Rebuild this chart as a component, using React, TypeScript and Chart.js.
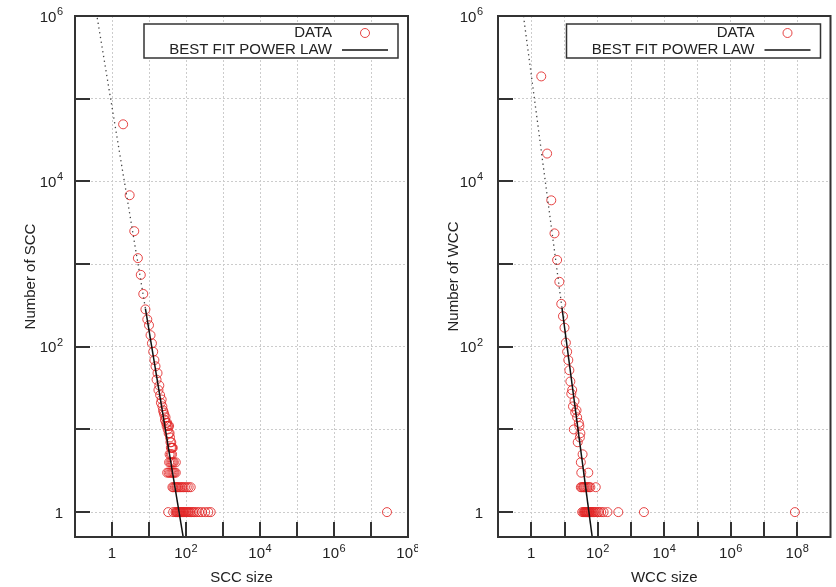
import React, { useEffect, useRef } from "react";
import { Chart, registerables } from "chart.js";

Chart.register(...registerables);

// ---------- SCC panel data ----------
const sccSizes = [
  2, 3, 4, 5, 6, 7, 8, 9, 10, 11, 12, 13, 14, 15, 16, 17, 18, 19, 20, 21, 22, 23, 24, 25, 26, 27, 28, 29, 30,
  31, 32, 33, 34, 35, 36, 37, 38, 39, 40, 41, 42, 44,
  36, 39, 42,
  35, 38, 41, 44, 47, 53,
  31, 34, 37, 40, 43, 46, 49, 53,
  43, 46, 50, 54, 57, 61, 66, 72, 78, 85, 94, 105, 118, 134,
  33, 45, 52, 55, 58, 60, 63, 65, 68, 70, 73, 76, 80, 84, 88, 93, 99, 106, 113, 121, 130, 142, 156, 172, 195,
  225, 270, 330, 400, 465, 27000000,
];
const sccCounts = [
  49000, 6800, 2500, 1180, 740, 435, 283, 214, 182, 138, 110, 87, 69, 58, 40, 48, 30, 34, 26, 21, 23, 19, 17, 16, 15, 13, 14, 12, 11,
  12, 10, 11, 9, 11, 9, 8, 7, 6, 7, 6, 6, 6,
  5, 5, 5,
  4, 4, 4, 4, 4, 4,
  3, 3, 3, 3, 3, 3, 3, 3,
  2, 2, 2, 2, 2, 2, 2, 2, 2, 2, 2, 2, 2, 2,
  1, 1, 1, 1, 1, 1, 1, 1, 1, 1, 1, 1, 1, 1, 1, 1, 1, 1, 1, 1, 1, 1, 1, 1, 1,
  1, 1, 1, 1, 1, 1,
];
const sccFitSizes = [8, 120];
const sccFitCounts = [290, 0.19];
const sccExtrapSizes = [0.38, 8];
const sccExtrapCounts = [1080000, 290];

// ---------- WCC panel data ----------
const wccSizes = [
  2, 3, 4, 5, 6, 7, 8, 9, 10, 11, 12, 13, 14, 15, 16, 17, 18, 19, 20, 21, 23, 24, 25, 27, 28, 29, 30,
  35, 31, 32, 52,
  31, 33, 36, 38, 40, 43, 46, 50, 55, 60, 87,
  34, 37, 39, 41, 42, 44, 45, 47, 48, 49, 51, 53, 54, 56, 58, 62, 65, 70, 75, 80, 90, 100, 110, 127, 150, 196,
  415, 2450, 85000000,
];
const wccCounts = [
  186000, 21700, 5900, 2350, 1120, 610, 330, 234, 170, 112, 87, 69, 52, 38, 27, 30, 19, 10, 22, 16, 17, 14, 7, 12, 11, 8, 9,
  5, 4, 3, 3,
  2, 2, 2, 2, 2, 2, 2, 2, 2, 2, 2,
  1, 1, 1, 1, 1, 1, 1, 1, 1, 1, 1, 1, 1, 1, 1, 1, 1, 1, 1, 1, 1, 1, 1, 1, 1, 1,
  1, 1, 1,
];
const wccFitSizes = [8.4, 100];
const wccFitCounts = [295, 0.155];
const wccExtrapSizes = [0.585, 8.4];
const wccExtrapCounts = [1000000, 295];

// ---------- ticks ----------
const decadeValues = [0.1, 1, 10, 100, 1e3, 1e4, 1e5, 1e6, 1e7, 1e8, 1e9];
const decadeLabels = ["", "1", "", "10²", "", "10⁴", "", "10⁶", "", "10⁸", ""];

const legendDataLabel = "DATA";
const legendFitLabel = "BEST FIT POWER LAW";

const FONT_FAMILY = '"Liberation Sans", Arial, Helvetica, sans-serif';
const TEXT = "#222222";
const SUP_DIGITS = "⁰¹²³⁴⁵⁶⁷⁸⁹";

function labelFor(v: number): string {
  const i = decadeValues.findIndex((d) => Math.abs(Math.log10(d) - Math.log10(v)) < 1e-6);
  return i >= 0 ? decadeLabels[i] : "";
}

// split "10²" into base "10" and exponent "2"
function splitLabel(label: string): [string, string] {
  let base = "";
  let exp = "";
  for (const ch of label) {
    const k = SUP_DIGITS.indexOf(ch);
    if (k >= 0) exp += String(k);
    else base += ch;
  }
  return [base, exp];
}

function drawPowerLabel(ctx: CanvasRenderingContext2D, label: string, x: number, baseline: number, align: "center" | "right") {
  const [base, exp] = splitLabel(label);
  ctx.font = `15px ${FONT_FAMILY}`;
  const wb = ctx.measureText(base).width;
  ctx.font = `11px ${FONT_FAMILY}`;
  const we = exp ? ctx.measureText(exp).width + 0.5 : 0;
  const total = wb + we;
  const start = align === "center" ? x - total / 2 : x - total;
  ctx.textAlign = "left";
  ctx.textBaseline = "alphabetic";
  ctx.font = `15px ${FONT_FAMILY}`;
  ctx.fillText(base, start, baseline);
  if (exp) {
    ctx.font = `11px ${FONT_FAMILY}`;
    ctx.fillText(exp, start + wb + 0.5, baseline - 6.5);
  }
}

const framePlugin = {
  id: "gnuFrame",
  afterDraw(chart: any) {
    const { ctx, chartArea, scales, data } = chart;
    const { left, right, top, bottom } = chartArea;
    const x = scales.x;
    const y = scales.y;
    const yPad = chart.options.scales.y.ticks.padding;
    ctx.save();
    // inward tick marks
    ctx.strokeStyle = "#333";
    ctx.lineWidth = 2;
    x.ticks.forEach((t: any) => {
      const px = Math.round(x.getPixelForValue(t.value));
      if (px <= left + 1 || px >= right - 1) return;
      ctx.beginPath();
      ctx.moveTo(px, bottom);
      ctx.lineTo(px, bottom - 15);
      ctx.stroke();
    });
    y.ticks.forEach((t: any) => {
      const py = Math.round(y.getPixelForValue(t.value));
      if (py <= top + 1 || py >= bottom - 1) return;
      ctx.beginPath();
      ctx.moveTo(left, py);
      ctx.lineTo(left + 15, py);
      ctx.stroke();
    });
    // border box
    ctx.lineWidth = 2;
    ctx.strokeRect(left, top, right - left, bottom - top);

    // tick labels
    ctx.fillStyle = TEXT;
    x.ticks.forEach((t: any) => {
      const lab = labelFor(t.value);
      if (!lab) return;
      drawPowerLabel(ctx, lab, x.getPixelForValue(t.value), bottom + 21, "center");
    });
    y.ticks.forEach((t: any) => {
      const lab = labelFor(t.value);
      if (!lab) return;
      drawPowerLabel(ctx, lab, left - yPad, y.getPixelForValue(t.value) + 5.5, "right");
    });

    // legend box
    const bw = 254;
    const bh = 34;
    const bx = right - 10 - bw;
    const by = top + 8;
    ctx.fillStyle = "#fff";
    ctx.fillRect(bx, by, bw, bh);
    ctx.lineWidth = 1.5;
    ctx.strokeStyle = "#333";
    ctx.strokeRect(bx, by, bw, bh);
    ctx.font = `15px ${FONT_FAMILY}`;
    ctx.fillStyle = TEXT;
    ctx.textAlign = "right";
    ctx.textBaseline = "middle";
    const tx = bx + bw - 66;
    ctx.fillText(data.datasets[0].label, tx, by + 9);
    ctx.fillText(data.datasets[1].label, tx, by + 26);
    ctx.strokeStyle = data.datasets[0].borderColor;
    ctx.lineWidth = 1;
    ctx.beginPath();
    ctx.arc(bx + bw - 33, by + 9, 4.5, 0, Math.PI * 2);
    ctx.stroke();
    ctx.strokeStyle = data.datasets[1].borderColor;
    ctx.lineWidth = 1.5;
    ctx.beginPath();
    ctx.moveTo(bx + bw - 56, by + 26);
    ctx.lineTo(bx + bw - 10, by + 26);
    ctx.stroke();
    ctx.restore();
  },
};

type PanelProps = {
  sizes: number[];
  counts: number[];
  fitX: number[];
  fitY: number[];
  extX: number[];
  extY: number[];
  xMax: number;
  xTitle: string;
  yTitle: string;
  yAxisWidth: number;
  rightPad: number;
  yLabelPad: number;
  yTitlePad: number;
};

function Panel(p: PanelProps) {
  const ref = useRef<HTMLCanvasElement | null>(null);
  useEffect(() => {
    if (!ref.current) return;
    const font = { family: FONT_FAMILY, size: 15 };
    const decadeTicks = (min: number, max: number) =>
      decadeValues.filter((v) => v >= min * 0.999 && v <= max * 1.001).map((v) => ({ value: v }));
    const chart = new Chart(ref.current, {
      type: "scatter",
      data: {
        datasets: [
          {
            label: legendDataLabel,
            data: p.sizes.map((s, i) => ({ x: s, y: p.counts[i] })),
            pointStyle: "circle",
            pointRadius: 4.5,
            pointBorderWidth: 1,
            borderColor: "rgba(226,38,38,0.85)",
            backgroundColor: "rgba(0,0,0,0)",
            showLine: false,
            order: 3,
          } as any,
          {
            label: legendFitLabel,
            data: p.fitX.map((s, i) => ({ x: s, y: p.fitY[i] })),
            showLine: true,
            pointRadius: 0,
            borderColor: "#111111",
            backgroundColor: "#111111",
            borderWidth: 1.5,
            order: 1,
          } as any,
          {
            label: "",
            data: p.extX.map((s, i) => ({ x: s, y: p.extY[i] })),
            showLine: true,
            pointRadius: 0,
            borderColor: "#444444",
            backgroundColor: "#444444",
            borderWidth: 1.3,
            borderDash: [1.3, 3.5],
            order: 2,
          } as any,
        ],
      },
      options: {
        animation: false,
        responsive: false,
        devicePixelRatio: 1,
        events: [],
        layout: { padding: { top: 16, right: p.rightPad, left: 0, bottom: 0 } },
        plugins: { legend: { display: false }, tooltip: { enabled: false } },
        scales: {
          x: {
            type: "logarithmic",
            min: 0.1,
            max: p.xMax,
            afterBuildTicks: (s: any) => {
              s.ticks = decadeTicks(s.min, s.max);
            },
            afterFit: (s: any) => {
              s.height = 50;
              s.paddingLeft = 0;
              s.paddingRight = 0;
            },
            grid: { color: "#cccccc", lineWidth: 1, drawTicks: false },
            border: { display: false, dash: [2, 2] },
            ticks: {
              display: false,
              callback: (v: any) => labelFor(Number(v)),
              font,
              color: TEXT,
              padding: 6,
              maxRotation: 0,
              autoSkip: false,
            },
            title: { display: true, text: p.xTitle, font, color: TEXT, padding: { top: 0, bottom: 0 } },
          },
          y: {
            type: "logarithmic",
            min: 0.5,
            max: 1e6,
            afterBuildTicks: (s: any) => {
              s.ticks = decadeTicks(1, s.max);
            },
            afterFit: (s: any) => {
              s.width = p.yAxisWidth;
              s.paddingTop = 0;
              s.paddingBottom = 0;
            },
            grid: { color: "#cccccc", lineWidth: 1, drawTicks: false },
            border: { display: false, dash: [2, 2] },
            ticks: {
              display: false,
              callback: (v: any) => labelFor(Number(v)),
              font,
              color: TEXT,
              padding: p.yLabelPad,
              autoSkip: false,
            },
            title: { display: true, text: p.yTitle, font, color: TEXT, padding: { top: p.yTitlePad, bottom: 0 } },
          },
        },
      } as any,
      plugins: [framePlugin],
    });
    return () => chart.destroy();
  }, []);
  return <canvas ref={ref} width={418} height={587} style={{ display: "block", width: 418, height: 587 }} />;
}

export default function App() {
  return (
    <div
      style={{
        position: "fixed",
        left: 0,
        top: 0,
        width: 836,
        height: 587,
        background: "#ffffff",
        display: "flex",
        flexDirection: "row",
      }}
    >
      <Panel
        sizes={sccSizes}
        counts={sccCounts}
        fitX={sccFitSizes}
        fitY={sccFitCounts}
        extX={sccExtrapSizes}
        extY={sccExtrapCounts}
        xMax={1e8}
        xTitle="SCC size"
        yTitle="Number of SCC"
        yAxisWidth={75}
        rightPad={10}
        yLabelPad={12}
        yTitlePad={22}
      />
      <Panel
        sizes={wccSizes}
        counts={wccCounts}
        fitX={wccFitSizes}
        fitY={wccFitCounts}
        extX={wccExtrapSizes}
        extY={wccExtrapCounts}
        xMax={1e9}
        xTitle="WCC size"
        yTitle="Number of WCC"
        yAxisWidth={80}
        rightPad={5}
        yLabelPad={15}
        yTitlePad={27}
      />
    </div>
  );
}
